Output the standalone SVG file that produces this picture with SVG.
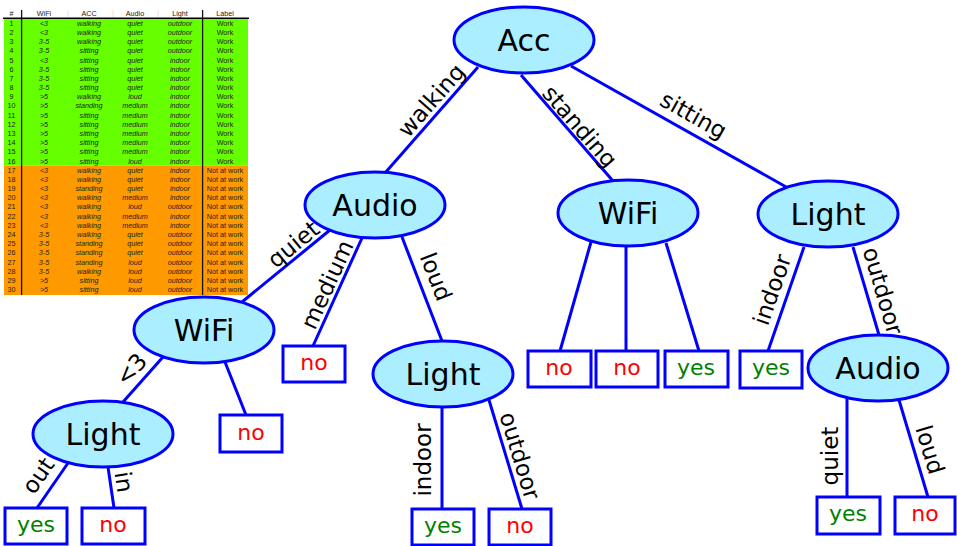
<svg xmlns="http://www.w3.org/2000/svg" width="957" height="546" viewBox="0 0 957 546">
  <style>
    .node ellipse { fill: #aaeeff; stroke: #0000ff; stroke-width: 3; }
    .node text { font-family: "DejaVu Sans", sans-serif; font-size: 30px; fill: #000; text-anchor: middle; }
    .leaf rect { fill: #fff; stroke: #0000ff; stroke-width: 3; }
    .leaf text { font-family: "DejaVu Sans", sans-serif; font-size: 22px; text-anchor: middle; }
    .yes { fill: #008000; }
    .no { fill: #ff0000; }
    #connectors line { stroke: #0000ff; stroke-width: 3; }
    #connectors text { font-family: "DejaVu Sans", sans-serif; font-size: 23px; fill: #000; text-anchor: middle; }
    #table text { font-family: "Liberation Sans", Arial, sans-serif; font-size: 7.2px; fill: #222; text-anchor: middle; }
    #table .i { font-style: italic; }
  </style>

  <!-- training data table -->
  <g id="table">
    <rect x="4" y="18.7" width="244" height="146.9" fill="#66ff00"/>
    <rect x="4" y="165.6" width="244" height="129.4" fill="#ff9900"/>
    <g stroke="#dddddd" stroke-width="0.8">
      <line x1="68" y1="10" x2="68" y2="18"/>
      <line x1="113" y1="10" x2="113" y2="18"/>
      <line x1="158" y1="10" x2="158" y2="18"/>
    </g>
    <line x1="3" y1="18.3" x2="249" y2="18.3" stroke="#000" stroke-width="1.5"/>
    <line x1="21.6" y1="10" x2="21.6" y2="295" stroke="#111" stroke-width="1.3"/>
    <line x1="202.6" y1="10" x2="202.6" y2="295" stroke="#111" stroke-width="1.3"/>
    <text y="16.2"><tspan x="11.5">#</tspan><tspan x="44">WiFi</tspan><tspan x="89">ACC</tspan><tspan x="135">Audio</tspan><tspan x="180">Light</tspan><tspan x="225">Label</tspan></text>
    <text y="25.8"><tspan x="11.5">1</tspan><tspan class="i" x="44">&lt;3</tspan><tspan class="i" x="89">walking</tspan><tspan class="i" x="135">quiet</tspan><tspan class="i" x="180">outdoor</tspan><tspan x="225">Work</tspan></text>
    <text y="35.0"><tspan x="11.5">2</tspan><tspan class="i" x="44">&lt;3</tspan><tspan class="i" x="89">walking</tspan><tspan class="i" x="135">quiet</tspan><tspan class="i" x="180">outdoor</tspan><tspan x="225">Work</tspan></text>
    <text y="44.2"><tspan x="11.5">3</tspan><tspan class="i" x="44">3-5</tspan><tspan class="i" x="89">walking</tspan><tspan class="i" x="135">quiet</tspan><tspan class="i" x="180">outdoor</tspan><tspan x="225">Work</tspan></text>
    <text y="53.3"><tspan x="11.5">4</tspan><tspan class="i" x="44">3-5</tspan><tspan class="i" x="89">sitting</tspan><tspan class="i" x="135">quiet</tspan><tspan class="i" x="180">outdoor</tspan><tspan x="225">Work</tspan></text>
    <text y="62.5"><tspan x="11.5">5</tspan><tspan class="i" x="44">&lt;3</tspan><tspan class="i" x="89">sitting</tspan><tspan class="i" x="135">quiet</tspan><tspan class="i" x="180">indoor</tspan><tspan x="225">Work</tspan></text>
    <text y="71.7"><tspan x="11.5">6</tspan><tspan class="i" x="44">3-5</tspan><tspan class="i" x="89">sitting</tspan><tspan class="i" x="135">quiet</tspan><tspan class="i" x="180">indoor</tspan><tspan x="225">Work</tspan></text>
    <text y="80.9"><tspan x="11.5">7</tspan><tspan class="i" x="44">3-5</tspan><tspan class="i" x="89">sitting</tspan><tspan class="i" x="135">quiet</tspan><tspan class="i" x="180">indoor</tspan><tspan x="225">Work</tspan></text>
    <text y="90.1"><tspan x="11.5">8</tspan><tspan class="i" x="44">3-5</tspan><tspan class="i" x="89">sitting</tspan><tspan class="i" x="135">quiet</tspan><tspan class="i" x="180">indoor</tspan><tspan x="225">Work</tspan></text>
    <text y="99.2"><tspan x="11.5">9</tspan><tspan class="i" x="44">&gt;5</tspan><tspan class="i" x="89">walking</tspan><tspan class="i" x="135">loud</tspan><tspan class="i" x="180">indoor</tspan><tspan x="225">Work</tspan></text>
    <text y="108.4"><tspan x="11.5">10</tspan><tspan class="i" x="44">&gt;5</tspan><tspan class="i" x="89">standing</tspan><tspan class="i" x="135">medium</tspan><tspan class="i" x="180">indoor</tspan><tspan x="225">Work</tspan></text>
    <text y="117.6"><tspan x="11.5">11</tspan><tspan class="i" x="44">&gt;5</tspan><tspan class="i" x="89">sitting</tspan><tspan class="i" x="135">medium</tspan><tspan class="i" x="180">indoor</tspan><tspan x="225">Work</tspan></text>
    <text y="126.8"><tspan x="11.5">12</tspan><tspan class="i" x="44">&gt;5</tspan><tspan class="i" x="89">sitting</tspan><tspan class="i" x="135">medium</tspan><tspan class="i" x="180">indoor</tspan><tspan x="225">Work</tspan></text>
    <text y="136.0"><tspan x="11.5">13</tspan><tspan class="i" x="44">&gt;5</tspan><tspan class="i" x="89">sitting</tspan><tspan class="i" x="135">medium</tspan><tspan class="i" x="180">indoor</tspan><tspan x="225">Work</tspan></text>
    <text y="145.1"><tspan x="11.5">14</tspan><tspan class="i" x="44">&gt;5</tspan><tspan class="i" x="89">sitting</tspan><tspan class="i" x="135">medium</tspan><tspan class="i" x="180">indoor</tspan><tspan x="225">Work</tspan></text>
    <text y="154.3"><tspan x="11.5">15</tspan><tspan class="i" x="44">&gt;5</tspan><tspan class="i" x="89">sitting</tspan><tspan class="i" x="135">medium</tspan><tspan class="i" x="180">indoor</tspan><tspan x="225">Work</tspan></text>
    <text y="163.5"><tspan x="11.5">16</tspan><tspan class="i" x="44">&gt;5</tspan><tspan class="i" x="89">sitting</tspan><tspan class="i" x="135">loud</tspan><tspan class="i" x="180">indoor</tspan><tspan x="225">Work</tspan></text>
    <text y="172.7"><tspan x="11.5">17</tspan><tspan class="i" x="44">&lt;3</tspan><tspan class="i" x="89">walking</tspan><tspan class="i" x="135">quiet</tspan><tspan class="i" x="180">indoor</tspan><tspan x="225">Not at work</tspan></text>
    <text y="181.9"><tspan x="11.5">18</tspan><tspan class="i" x="44">&lt;3</tspan><tspan class="i" x="89">walking</tspan><tspan class="i" x="135">quiet</tspan><tspan class="i" x="180">indoor</tspan><tspan x="225">Not at work</tspan></text>
    <text y="191.0"><tspan x="11.5">19</tspan><tspan class="i" x="44">&lt;3</tspan><tspan class="i" x="89">standing</tspan><tspan class="i" x="135">quiet</tspan><tspan class="i" x="180">indoor</tspan><tspan x="225">Not at work</tspan></text>
    <text y="200.2"><tspan x="11.5">20</tspan><tspan class="i" x="44">&lt;3</tspan><tspan class="i" x="89">walking</tspan><tspan class="i" x="135">medium</tspan><tspan class="i" x="180">indoor</tspan><tspan x="225">Not at work</tspan></text>
    <text y="209.4"><tspan x="11.5">21</tspan><tspan class="i" x="44">&lt;3</tspan><tspan class="i" x="89">walking</tspan><tspan class="i" x="135">loud</tspan><tspan class="i" x="180">outdoor</tspan><tspan x="225">Not at work</tspan></text>
    <text y="218.6"><tspan x="11.5">22</tspan><tspan class="i" x="44">&lt;3</tspan><tspan class="i" x="89">walking</tspan><tspan class="i" x="135">medium</tspan><tspan class="i" x="180">indoor</tspan><tspan x="225">Not at work</tspan></text>
    <text y="227.8"><tspan x="11.5">23</tspan><tspan class="i" x="44">&lt;3</tspan><tspan class="i" x="89">walking</tspan><tspan class="i" x="135">medium</tspan><tspan class="i" x="180">indoor</tspan><tspan x="225">Not at work</tspan></text>
    <text y="236.9"><tspan x="11.5">24</tspan><tspan class="i" x="44">3-5</tspan><tspan class="i" x="89">walking</tspan><tspan class="i" x="135">quiet</tspan><tspan class="i" x="180">outdoor</tspan><tspan x="225">Not at work</tspan></text>
    <text y="246.1"><tspan x="11.5">25</tspan><tspan class="i" x="44">3-5</tspan><tspan class="i" x="89">standing</tspan><tspan class="i" x="135">quiet</tspan><tspan class="i" x="180">outdoor</tspan><tspan x="225">Not at work</tspan></text>
    <text y="255.3"><tspan x="11.5">26</tspan><tspan class="i" x="44">3-5</tspan><tspan class="i" x="89">standing</tspan><tspan class="i" x="135">quiet</tspan><tspan class="i" x="180">outdoor</tspan><tspan x="225">Not at work</tspan></text>
    <text y="264.5"><tspan x="11.5">27</tspan><tspan class="i" x="44">3-5</tspan><tspan class="i" x="89">standing</tspan><tspan class="i" x="135">loud</tspan><tspan class="i" x="180">outdoor</tspan><tspan x="225">Not at work</tspan></text>
    <text y="273.7"><tspan x="11.5">28</tspan><tspan class="i" x="44">3-5</tspan><tspan class="i" x="89">walking</tspan><tspan class="i" x="135">loud</tspan><tspan class="i" x="180">outdoor</tspan><tspan x="225">Not at work</tspan></text>
    <text y="282.8"><tspan x="11.5">29</tspan><tspan class="i" x="44">&gt;5</tspan><tspan class="i" x="89">sitting</tspan><tspan class="i" x="135">loud</tspan><tspan class="i" x="180">outdoor</tspan><tspan x="225">Not at work</tspan></text>
    <text y="292.0"><tspan x="11.5">30</tspan><tspan class="i" x="44">&gt;5</tspan><tspan class="i" x="89">sitting</tspan><tspan class="i" x="135">loud</tspan><tspan class="i" x="180">outdoor</tspan><tspan x="225">Not at work</tspan></text>
  </g>

  <!-- tree edges with their branch labels -->
  <g id="connectors">
    <line x1="478" y1="67" x2="385" y2="173"/>
    <line x1="521" y1="75" x2="613" y2="181"/>
    <line x1="571" y1="66" x2="788" y2="188"/>
    <line x1="330" y1="230" x2="242" y2="302"/>
    <line x1="362" y1="238" x2="313" y2="346"/>
    <line x1="402" y1="237" x2="442" y2="341"/>
    <line x1="442" y1="407" x2="442" y2="509"/>
    <line x1="489" y1="400" x2="522" y2="509"/>
    <line x1="163" y1="357" x2="123" y2="402"/>
    <line x1="225" y1="362" x2="246" y2="415"/>
    <line x1="68" y1="463" x2="37" y2="508"/>
    <line x1="108" y1="467" x2="114" y2="508"/>
    <line x1="591" y1="242" x2="560" y2="351"/>
    <line x1="626" y1="246" x2="626" y2="351"/>
    <line x1="666" y1="243" x2="699" y2="351"/>
    <line x1="804" y1="247" x2="768" y2="351"/>
    <line x1="853" y1="247" x2="879" y2="335"/>
    <line x1="847" y1="398" x2="847" y2="497"/>
    <line x1="899" y1="400" x2="928" y2="497"/>

    <text transform="translate(432,101) rotate(-48.7)" y="7">walking</text>
    <text transform="translate(579,127) rotate(49)" y="7">standing</text>
    <text transform="translate(693,116) rotate(29.3)" y="7">sitting</text>
    <text transform="translate(294,245) rotate(-39.3)" y="7">quiet</text>
    <text transform="translate(328,285) rotate(-65.4)" y="7">medium</text>
    <text transform="translate(435,277) rotate(68.8)" y="7">loud</text>
    <text transform="translate(424,460) rotate(-90)" y="7">indoor</text>
    <text transform="translate(519,456) rotate(73.2)" y="7">outdoor</text>
    <text transform="translate(132,370) rotate(-48.4)" y="7">&lt;3</text>
    <text transform="translate(39,476) rotate(-55.4)" y="7">out</text>
    <text transform="translate(123,482) rotate(81.7)" y="7">in</text>
    <text transform="translate(773,290) rotate(-70.9)" y="7">indoor</text>
    <text transform="translate(882,291) rotate(73.5)" y="7">outdoor</text>
    <text transform="translate(831,456) rotate(-90)" y="7">quiet</text>
    <text transform="translate(929,450) rotate(73.4)" y="7">loud</text>
  </g>

  <!-- decision nodes -->
  <g id="node-acc" class="node"><ellipse cx="524" cy="40" rx="70" ry="33"/><text x="524" y="51">Acc</text></g>
  <g id="node-audio-walking" class="node"><ellipse cx="375" cy="205" rx="70" ry="33"/><text x="375" y="216">Audio</text></g>
  <g id="node-wifi-standing" class="node"><ellipse cx="628" cy="213" rx="70" ry="33"/><text x="628" y="224">WiFi</text></g>
  <g id="node-light-sitting" class="node"><ellipse cx="828" cy="214" rx="70" ry="33"/><text x="828" y="225">Light</text></g>
  <g id="node-wifi-quiet" class="node"><ellipse cx="204" cy="330" rx="70" ry="33"/><text x="204" y="341">WiFi</text></g>
  <g id="node-light-loud" class="node"><ellipse cx="443" cy="374" rx="70" ry="33"/><text x="443" y="385">Light</text></g>
  <g id="node-light-lt3" class="node"><ellipse cx="103" cy="434" rx="70" ry="33"/><text x="103" y="445">Light</text></g>
  <g id="node-audio-outdoor" class="node"><ellipse cx="878" cy="368" rx="70" ry="33"/><text x="878" y="379">Audio</text></g>

  <!-- leaf outcomes -->
  <g id="leaf-medium" class="leaf"><rect x="283" y="346" width="62" height="36"/><text class="no" x="314" y="370">no</text></g>
  <g id="leaf-wifi-other" class="leaf"><rect x="220" y="415" width="62" height="37"/><text class="no" x="251" y="440">no</text></g>
  <g id="leaf-out" class="leaf"><rect x="5" y="508" width="62" height="36"/><text class="yes" x="36" y="532">yes</text></g>
  <g id="leaf-in" class="leaf"><rect x="82" y="508" width="63" height="36"/><text class="no" x="113" y="532">no</text></g>
  <g id="leaf-loud-indoor" class="leaf"><rect x="412" y="509" width="62" height="36"/><text class="yes" x="443" y="533">yes</text></g>
  <g id="leaf-loud-outdoor" class="leaf"><rect x="489" y="509" width="62" height="36"/><text class="no" x="520" y="533">no</text></g>
  <g id="leaf-standing-1" class="leaf"><rect x="528" y="351" width="63" height="36"/><text class="no" x="559" y="375">no</text></g>
  <g id="leaf-standing-2" class="leaf"><rect x="596" y="351" width="62" height="36"/><text class="no" x="627" y="375">no</text></g>
  <g id="leaf-standing-3" class="leaf"><rect x="665" y="351" width="63" height="36"/><text class="yes" x="696" y="375">yes</text></g>
  <g id="leaf-sitting-indoor" class="leaf"><rect x="740" y="351" width="62" height="37"/><text class="yes" x="771" y="375">yes</text></g>
  <g id="leaf-outdoor-quiet" class="leaf"><rect x="817" y="497" width="63" height="37"/><text class="yes" x="848" y="521">yes</text></g>
  <g id="leaf-outdoor-loud" class="leaf"><rect x="895" y="497" width="60" height="37"/><text class="no" x="925" y="521">no</text></g>
</svg>
